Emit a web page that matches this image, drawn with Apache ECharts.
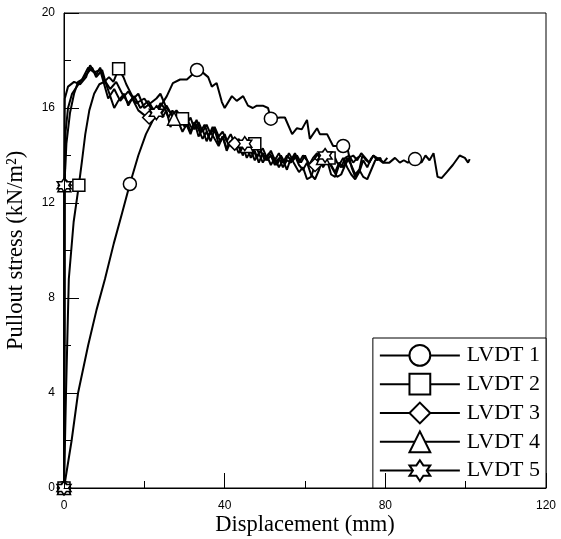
<!DOCTYPE html>
<html>
<head>
<meta charset="utf-8">
<script src="https://cdn.jsdelivr.net/npm/echarts@6/dist/echarts.min.js"></script>
<style>html,body{margin:0;padding:0;background:#fff;}#c{width:561px;height:539px;}</style>
</head>
<body>
<div id="c"></div>
<script>
// ---- data (displacement mm, pullout stress kN/m2) ----
const seriesNames = ['LVDT 1', 'LVDT 2', 'LVDT 3', 'LVDT 4', 'LVDT 5'];
const xTicks = [0, 40, 80, 120];
const yTicks = [0, 4, 8, 12, 16, 20];

const lvdt1 = [[0,0],[1.9,2.0],[3.5,4.0],[6.0,6.0],[8.1,7.5],[10.2,8.8],[12.4,10.3],[14.5,11.6],[16.4,12.8],[18.5,14.0],[20.4,14.9],[22.2,15.5],[23.4,15.9],[25.6,16.5],[27.1,17.05],[28.9,17.2],[30.6,17.2],[31.9,17.4],[33.1,17.6],[34.5,17.5],[35.9,17.3],[36.8,16.9],[38.0,17.05],[39.3,16.25],[40.0,16.0],[41.8,16.5],[43.0,16.3],[44.6,16.5],[45.8,16.1],[47.0,16.0],[48.0,16.1],[49.5,16.1],[50.8,16.0],[51.5,15.55],[53.8,15.6],[55.0,15.6],[56.8,14.9],[58.0,15.15],[59.2,15.1],[60.5,15.5],[61.2,14.7],[63.0,15.15],[63.7,14.9],[65.5,14.9],[67.0,14.4],[69.5,14.4],[70.7,14.2],[71.6,13.5],[72.5,13.1],[73.4,13.3],[74.3,14.0],[75.2,13.8],[76.0,13.7],[77.0,14.0],[77.9,13.9],[79.4,13.7],[81.0,13.7],[82.4,13.9],[83.6,13.7],[84.6,13.8],[85.6,13.7],[87.4,13.85],[89.0,13.7],[90.0,14.0],[91.0,13.8],[92.0,14.1],[93.0,13.1],[94.0,13.05],[95.3,13.3],[96.8,13.6],[98.5,14.0],[99.8,13.9],[100.6,13.7],[101.0,13.85]];
const lvdt2 = [[0,0],[0.5,4.0],[1.2,8.8],[2.4,11.2],[3.7,12.75],[4.5,13.8],[5.3,14.9],[6.3,15.9],[7.5,16.6],[8.8,17.0],[10.0,17.1],[11.2,17.3],[12.3,17.1],[13.6,17.65],[14.8,17.3],[15.5,17.0],[16.4,16.7],[17.3,16.4],[18.5,16.6],[20.0,16.0],[21.5,16.2],[23.0,16.4],[24.0,16.6],[25.5,16.0],[27.0,15.7],[28.0,15.9],[29.5,15.55],[30.5,15.3],[31.5,15.6],[32.5,15.1],[33.5,15.4],[34.5,15.0],[35.5,15.3],[36.5,14.9],[37.5,15.2],[38.5,14.8],[39.5,15.0],[40.5,14.6],[41.5,14.9],[42.5,14.5],[43.5,14.7],[44.5,14.3],[45.5,14.6],[46.5,14.4],[47.5,14.5],[48.5,14.1],[49.5,14.3],[50.5,13.9],[51.5,14.2],[52.5,13.8],[53.5,14.1],[54.5,13.7],[55.5,14.0],[56.5,13.8],[57.5,14.1],[58.5,13.7],[59.5,14.0],[60.5,13.8],[61.5,13.5],[62.5,13.9],[63.5,14.1],[64.5,13.8],[66.0,13.9],[67.0,14.1],[68.0,13.7],[69.0,13.5],[70.0,13.9],[71.0,14.0],[72.0,13.7],[73.0,13.9],[74.0,14.0]];
const lvdt3 = [[0,0],[0.1,6.0],[0.2,12.75],[0.4,15.0],[1.0,16.0],[2.0,16.6],[4.0,17.1],[6.0,17.5],[7.0,17.7],[8.0,17.3],[9.5,17.6],[10.5,17.0],[11.5,16.5],[12.5,16.0],[13.5,16.3],[15.0,16.6],[16.0,16.1],[17.0,16.4],[18.5,15.9],[20.0,15.7],[21.2,15.6],[22.5,15.7],[23.5,16.1],[24.5,15.6],[25.5,15.9],[26.5,15.2],[27.5,15.6],[28.5,15.4],[29.5,15.0],[30.5,15.3],[31.5,14.9],[32.5,15.4],[33.5,14.8],[34.5,15.1],[35.5,14.6],[36.5,15.0],[37.5,14.7],[38.5,14.4],[39.5,14.8],[40.5,14.3],[41.5,14.6],[42.5,14.5],[43.5,14.1],[44.5,14.4],[45.5,13.9],[46.5,14.2],[47.5,13.8],[48.5,14.1],[49.5,13.7],[50.5,14.0],[51.5,13.6],[52.5,13.9],[53.5,13.5],[54.5,13.8],[55.5,13.4],[56.5,13.9],[57.5,13.6],[58.5,13.3],[59.5,13.5],[60.5,13.0],[61.5,13.1],[62.5,13.6],[63.5,13.9],[64.5,13.5],[65.5,13.8],[66.5,13.2],[67.5,13.1],[68.5,13.6],[69.5,13.9],[70.5,13.5],[71.5,13.2],[72.5,13.0],[73.5,13.3],[74.5,13.8],[75.5,13.5],[76.5,13.9]];
const lvdt4 = [[0,0],[0.15,7.0],[0.1,12.75],[0.6,14.5],[1.5,15.8],[2.5,16.6],[3.5,17.1],[4.5,17.2],[6.0,17.7],[7.5,17.5],[9.0,17.6],[10.0,17.0],[11.0,16.4],[12.5,16.8],[14.0,16.3],[16.0,16.7],[18.0,16.2],[20.0,16.4],[22.0,15.9],[24.0,15.7],[25.5,16.1],[27.4,15.55],[28.5,15.8],[29.5,15.3],[30.5,15.5],[31.5,15.0],[32.5,15.4],[33.5,15.1],[34.5,14.7],[35.5,15.0],[36.5,14.6],[37.5,15.1],[38.5,14.5],[39.5,14.8],[40.5,14.2],[41.5,14.6],[42.5,14.3],[43.5,14.5],[44.5,14.0],[45.5,14.4],[46.5,13.9],[47.5,14.2],[48.5,13.7],[49.5,14.1],[50.5,13.8],[51.5,14.0],[52.5,13.6],[53.5,13.9],[54.5,13.5],[55.5,13.8],[56.5,13.7],[57.5,14.0],[58.5,13.6],[59.5,13.4],[60.5,13.7],[61.5,13.2],[62.5,13.0],[63.5,13.4],[64.5,13.9],[65.5,14.0],[66.5,13.6],[67.5,13.3],[68.5,13.7],[69.5,13.5],[70.5,13.9],[71.5,13.6],[72.5,13.2],[73.5,13.4],[74.5,13.1],[75.5,13.0],[76.5,13.4],[77.5,13.8],[78.5,13.9],[79.5,13.7],[80.5,13.9]];
const lvdt5 = [[0,0],[0.03,6.0],[0.05,12.75],[0.2,16.4],[1.0,16.9],[2.5,17.1],[4.0,17.0],[5.5,17.3],[6.5,17.8],[8.0,17.4],[9.0,17.7],[10.0,17.2],[11.5,16.8],[13.0,17.1],[14.5,16.6],[16.0,16.2],[17.5,16.5],[19.0,16.0],[21.0,16.3],[22.0,16.0],[23.0,15.8],[24.0,16.2],[25.0,16.0],[26.0,15.6],[27.0,15.9],[28.0,15.5],[29.0,15.7],[30.0,15.2],[31.0,15.4],[32.0,15.1],[33.0,15.5],[34.0,15.0],[35.0,15.3],[36.0,14.8],[37.0,15.2],[38.0,14.9],[39.0,14.6],[40.0,14.9],[41.0,14.4],[42.0,14.7],[43.0,14.5],[44.0,14.2],[45.0,14.5],[46.0,14.1],[47.0,14.3],[48.0,13.9],[49.0,14.2],[50.0,13.8],[51.0,14.1],[52.0,13.9],[53.0,13.6],[54.0,14.0],[55.0,13.7],[56.0,14.1],[57.0,13.8],[58.0,14.0],[59.0,13.7],[60.0,14.0],[61.0,13.6],[62.0,13.9],[63.0,14.1],[64.0,13.8],[65.0,14.0],[66.0,13.7],[67.0,13.4],[68.0,13.1],[69.0,13.2],[70.0,13.6],[71.0,13.9],[72.0,14.0],[73.0,13.8],[74.0,14.1],[75.0,13.9],[76.0,13.7],[77.0,14.0],[78.0,13.8],[79.0,13.9]];

// displacement values of the points that carry a marker
const markerX1 = [0, 16.4, 33.1, 51.5, 69.5, 87.4];
const markerX2 = [0, 3.7, 13.6, 29.5, 47.5, 66.0];
const markerX3 = [0, 0.2, 21.2, 42.5, 62.5];
const markerX4 = [0, 0.1, 27.4, 45.5, 64.5];
const markerX5 = [0, 0.05, 23.0, 45.0, 65.0];

const seriesData = [lvdt1, lvdt2, lvdt3, lvdt4, lvdt5];
const seriesMarkers = [markerX1, markerX2, markerX3, markerX4, markerX5];

const hexagram = 'path://M0,-10L2.887,-5L8.66,-5L5.774,0L8.66,5L2.887,5L0,10L-2.887,5L-8.66,5L-5.774,0L-8.66,-5L-2.887,-5Z';
const symbols = ['circle', 'rect', 'diamond', 'triangle', hexagram];
const symbolSizes = [13, 12, 13, 13, 14];

const chart = echarts.init(document.getElementById('c'), null, {renderer: 'canvas'});

const series = seriesData.map((pts, i) => {
  const used = new Set();
  const data = pts.map((p, k) => {
    const isMarker = seriesMarkers[i].includes(p[0]) && !used.has(p[0]);
    if (isMarker) { used.add(p[0]); return {value: p}; }
    return {value: p, symbol: 'none'};
  });
  return {
    name: seriesNames[i],
    type: 'line',
    symbol: symbols[i],
    symbolSize: symbolSizes[i],
    showAllSymbol: true,
    lineStyle: {color: '#000', width: 2},
    itemStyle: {color: '#fff', borderColor: '#000', borderWidth: 1.5},
    emphasis: {disabled: true},
    z: 2,
    data: data
  };
});

const sans = 'Liberation Sans, Arial, sans-serif';
const serif = 'Liberation Serif, Times New Roman, serif';

chart.setOption({
  animation: false,
  backgroundColor: '#fff',
  grid: {left: 64, right: 15, top: 13, bottom: 51, show: true, borderColor: '#000', borderWidth: 1,
    backgroundColor: 'transparent', containLabel: false, outerBoundsMode: 'none'},
  xAxis: {
    type: 'value', min: 0, max: 120, interval: 40, z: 10,
    name: 'Displacement (mm)', nameLocation: 'middle', nameGap: 26, nameMoveOverlap: false,
    nameTextStyle: {fontFamily: serif, fontSize: 22.5, color: '#000'},
    axisLine: {show: true, lineStyle: {color: '#000', width: 1}},
    axisTick: {show: true, inside: true, length: 15, lineStyle: {color: '#000'}},
    minorTick: {show: true, splitNumber: 2, length: 7, lineStyle: {color: '#000'}},
    splitLine: {show: false},
    axisLabel: {fontFamily: sans, fontSize: 12, color: '#000', margin: 12,
      formatter: v => xTicks.includes(v) ? String(v) : ''}
  },
  yAxis: {
    type: 'value', min: 0, max: 20, interval: 4, z: 10,
    name: 'Pullout stress (kN/m²)', nameLocation: 'middle', nameGap: 36, nameMoveOverlap: false,
    nameTextStyle: {fontFamily: serif, fontSize: 22.5, color: '#000'},
    axisLine: {show: true, lineStyle: {color: '#000', width: 1}},
    axisTick: {show: true, inside: true, length: 15, lineStyle: {color: '#000'}},
    minorTick: {show: true, splitNumber: 2, length: 7, lineStyle: {color: '#000'}},
    splitLine: {show: false},
    axisLabel: {fontFamily: sans, fontSize: 12, color: '#000', margin: 9,
      formatter: v => yTicks.includes(v) ? String(v) : ''}
  },
  legend: {
    orient: 'vertical', right: 15, bottom: 51,
    backgroundColor: '#fff', borderColor: '#000', borderWidth: 1,
    padding: [6, 6, 6, 6], itemWidth: 80, itemHeight: 26, itemGap: 6,
    textStyle: {fontFamily: serif, fontSize: 22, color: '#000', padding: [0, 0, 0, 2]},
    selectedMode: false,
    data: seriesNames
  },
  series: series
});
</script>
</body>
</html>
